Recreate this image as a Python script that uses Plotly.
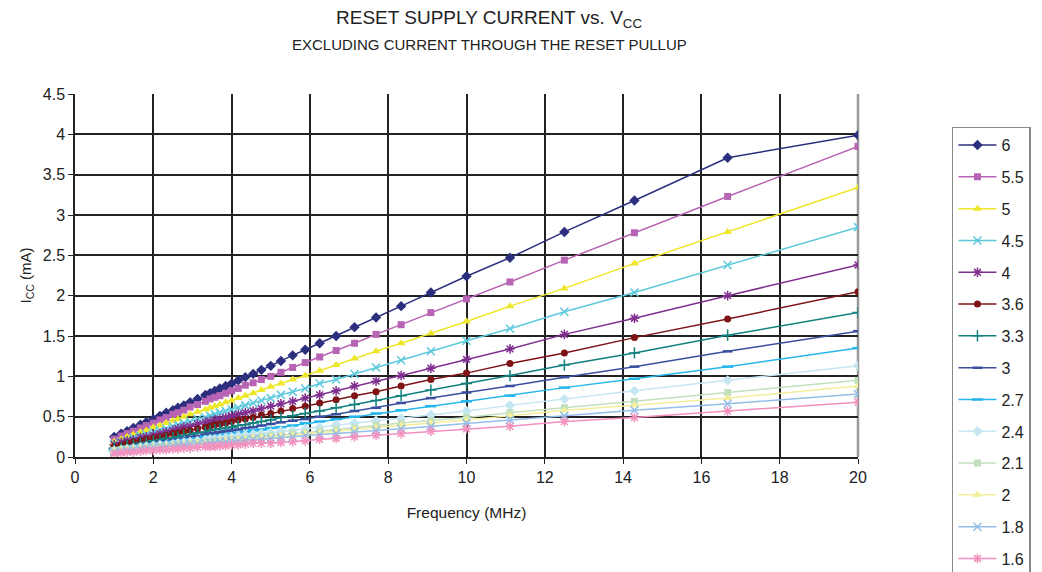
import plotly.graph_objects as go

# frequency points (MHz)
freq_mhz = [1.0, 1.18, 1.33, 1.49, 1.67, 1.82, 2.0, 2.17, 2.33, 2.5,
            2.63, 2.78, 2.94, 3.13, 3.33, 3.45, 3.57, 3.7, 3.85, 4.0,
            4.17, 4.35, 4.55, 4.76, 5.0, 5.26, 5.56, 5.88, 6.25, 6.67,
            7.14, 7.69, 8.33, 9.09, 10.0, 11.11, 12.5, 14.29, 16.67, 20.0]

# reset supply current (mA) per Vcc
icc_6v0 = [0.25, 0.29, 0.32, 0.36, 0.40, 0.43, 0.47, 0.51, 0.55, 0.58,
           0.61, 0.64, 0.68, 0.72, 0.77, 0.79, 0.82, 0.85, 0.88, 0.91,
           0.95, 0.99, 1.03, 1.08, 1.13, 1.19, 1.26, 1.33, 1.41, 1.50,
           1.61, 1.73, 1.87, 2.04, 2.24, 2.47, 2.79, 3.18, 3.71, 3.99]
icc_5v5 = [0.22, 0.26, 0.29, 0.32, 0.36, 0.39, 0.42, 0.46, 0.49, 0.53,
           0.55, 0.58, 0.62, 0.65, 0.69, 0.72, 0.74, 0.76, 0.79, 0.82,
           0.85, 0.89, 0.92, 0.96, 1.00, 1.05, 1.11, 1.17, 1.24, 1.32,
           1.41, 1.52, 1.64, 1.79, 1.96, 2.17, 2.44, 2.78, 3.23, 3.85]
icc_5v0 = [0.19, 0.22, 0.25, 0.28, 0.31, 0.33, 0.37, 0.39, 0.42, 0.45,
           0.47, 0.50, 0.53, 0.56, 0.59, 0.61, 0.63, 0.65, 0.68, 0.70,
           0.73, 0.76, 0.79, 0.83, 0.87, 0.91, 0.96, 1.01, 1.07, 1.14,
           1.22, 1.31, 1.41, 1.53, 1.68, 1.87, 2.09, 2.40, 2.79, 3.34]
icc_4v5 = [0.16, 0.19, 0.21, 0.24, 0.26, 0.28, 0.31, 0.33, 0.35, 0.38,
           0.40, 0.42, 0.44, 0.47, 0.49, 0.51, 0.53, 0.55, 0.57, 0.59,
           0.61, 0.64, 0.67, 0.70, 0.73, 0.77, 0.81, 0.85, 0.91, 0.96,
           1.03, 1.11, 1.20, 1.31, 1.44, 1.59, 1.80, 2.04, 2.38, 2.85]
icc_4v0 = [0.15, 0.18, 0.20, 0.21, 0.24, 0.25, 0.27, 0.29, 0.31, 0.33,
           0.35, 0.37, 0.38, 0.41, 0.43, 0.44, 0.46, 0.47, 0.49, 0.51,
           0.53, 0.55, 0.57, 0.60, 0.63, 0.66, 0.69, 0.73, 0.77, 0.82,
           0.88, 0.94, 1.01, 1.10, 1.21, 1.34, 1.52, 1.72, 2.00, 2.38]
icc_3v6 = [0.13, 0.15, 0.17, 0.19, 0.20, 0.22, 0.24, 0.25, 0.27, 0.29,
           0.30, 0.32, 0.33, 0.35, 0.37, 0.38, 0.40, 0.41, 0.42, 0.44,
           0.46, 0.47, 0.49, 0.52, 0.54, 0.57, 0.60, 0.63, 0.67, 0.71,
           0.76, 0.81, 0.88, 0.96, 1.04, 1.16, 1.29, 1.48, 1.71, 2.05]
icc_3v3 = [0.11, 0.12, 0.14, 0.15, 0.17, 0.18, 0.20, 0.21, 0.23, 0.24,
           0.25, 0.27, 0.28, 0.30, 0.31, 0.33, 0.34, 0.35, 0.36, 0.37,
           0.39, 0.40, 0.42, 0.44, 0.46, 0.49, 0.51, 0.54, 0.57, 0.61,
           0.65, 0.70, 0.76, 0.83, 0.91, 1.01, 1.14, 1.29, 1.51, 1.79]
icc_3v0 = [0.09, 0.11, 0.12, 0.14, 0.15, 0.16, 0.17, 0.19, 0.20, 0.21,
           0.22, 0.23, 0.25, 0.26, 0.28, 0.29, 0.30, 0.31, 0.32, 0.33,
           0.34, 0.36, 0.37, 0.39, 0.41, 0.43, 0.45, 0.47, 0.50, 0.53,
           0.57, 0.61, 0.67, 0.73, 0.80, 0.88, 0.99, 1.12, 1.31, 1.56]
icc_2v7 = [0.08, 0.10, 0.11, 0.12, 0.14, 0.15, 0.16, 0.17, 0.18, 0.19,
           0.20, 0.21, 0.22, 0.23, 0.25, 0.25, 0.26, 0.27, 0.28, 0.29,
           0.30, 0.31, 0.33, 0.34, 0.36, 0.37, 0.39, 0.42, 0.44, 0.47,
           0.50, 0.54, 0.58, 0.63, 0.69, 0.76, 0.86, 0.97, 1.12, 1.35]
icc_2v4 = [0.08, 0.09, 0.10, 0.11, 0.12, 0.13, 0.14, 0.15, 0.15, 0.16,
           0.17, 0.18, 0.19, 0.20, 0.21, 0.22, 0.22, 0.23, 0.24, 0.25,
           0.26, 0.27, 0.28, 0.29, 0.30, 0.32, 0.33, 0.35, 0.37, 0.40,
           0.42, 0.45, 0.48, 0.52, 0.57, 0.64, 0.72, 0.82, 0.95, 1.13]
icc_2v1 = [0.08, 0.09, 0.10, 0.10, 0.11, 0.12, 0.13, 0.13, 0.14, 0.15,
           0.16, 0.16, 0.17, 0.18, 0.19, 0.19, 0.20, 0.20, 0.21, 0.22,
           0.22, 0.23, 0.24, 0.25, 0.26, 0.27, 0.29, 0.30, 0.32, 0.34,
           0.36, 0.39, 0.42, 0.45, 0.49, 0.55, 0.61, 0.69, 0.80, 0.95]
icc_2v0 = [0.07, 0.08, 0.09, 0.09, 0.10, 0.11, 0.11, 0.12, 0.13, 0.14,
           0.14, 0.15, 0.15, 0.16, 0.17, 0.18, 0.18, 0.19, 0.20, 0.20,
           0.21, 0.22, 0.23, 0.24, 0.25, 0.26, 0.27, 0.29, 0.30, 0.32,
           0.34, 0.37, 0.39, 0.42, 0.46, 0.51, 0.58, 0.64, 0.73, 0.88]
icc_1v8 = [0.06, 0.07, 0.08, 0.09, 0.10, 0.11, 0.12, 0.13, 0.13, 0.14,
           0.15, 0.15, 0.16, 0.16, 0.17, 0.18, 0.18, 0.19, 0.19, 0.20,
           0.20, 0.21, 0.22, 0.22, 0.23, 0.24, 0.25, 0.27, 0.28, 0.29,
           0.31, 0.33, 0.35, 0.38, 0.42, 0.46, 0.51, 0.58, 0.66, 0.78]
icc_1v6 = [0.04, 0.05, 0.06, 0.06, 0.07, 0.08, 0.08, 0.09, 0.09, 0.10,
           0.10, 0.11, 0.11, 0.12, 0.13, 0.13, 0.13, 0.14, 0.14, 0.15,
           0.15, 0.16, 0.17, 0.17, 0.17, 0.18, 0.19, 0.20, 0.22, 0.23,
           0.25, 0.27, 0.29, 0.32, 0.35, 0.38, 0.44, 0.49, 0.57, 0.68]

vcc_labels = ["6", "5.5", "5", "4.5", "4", "3.6", "3.3", "3", "2.7", "2.4", "2.1", "2", "1.8", "1.6"]
series = [icc_6v0, icc_5v5, icc_5v0, icc_4v5, icc_4v0, icc_3v6, icc_3v3,
          icc_3v0, icc_2v7, icc_2v4, icc_2v1, icc_2v0, icc_1v8, icc_1v6]

# excel-ish palette + marker per series
colors = ["#2B2F7E", "#B864B4", "#EEE62A", "#5CC8DC", "#7F2F8F", "#7F1416", "#12807E",
          "#3A4FA0", "#27B6EC", "#C6E6F2", "#C2E0BE", "#F3EE9A", "#92BEE8", "#F290BE"]
symbols = ["diamond", "square", "triangle-up", "x-thin-open", "asterisk-open", "circle",
           "cross-thin-open", "line-ew-open", "line-ew-open", "diamond", "square",
           "triangle-up", "x-thin-open", "asterisk-open"]
sizes = [8, 7, 8, 8, 8, 7, 8, 7, 8, 8, 7, 8, 8, 8]

FONT = "Liberation Sans, Arial, sans-serif"

fig = go.Figure()
for lab, ys, col, sym, sz in zip(vcc_labels, series, colors, symbols, sizes):
    is_open = sym.endswith("open")
    fig.add_trace(
        go.Scatter(
            x=freq_mhz,
            y=ys,
            mode="lines+markers",
            name=lab,
            legendgroup=lab,
            line={"color": col, "width": 1.5},
            marker={"symbol": sym, "size": sz, "color": col,
                    "line": {"color": col, "width": 2.5 if sym == "line-ew-open" else (1.5 if is_open else 0)}},
        )
    )

# grey right border at 20 MHz
fig.add_shape(type="line", xref="paper", yref="paper", x0=1, x1=1, y0=0, y1=1,
              line={"color": "#999999", "width": 2.5}, layer="between")

fig.add_annotation(
    x=0.529, y=1.206, xref="paper", yref="paper", showarrow=False,
    xanchor="center", yanchor="middle",
    text="RESET SUPPLY CURRENT vs. V<sub>CC</sub>",
    font={"size": 19, "color": "#222"},
)
fig.add_annotation(
    x=0.529, y=1.135, xref="paper", yref="paper", showarrow=False,
    xanchor="center", yanchor="middle",
    text="EXCLUDING CURRENT THROUGH THE RESET PULLUP",
    font={"size": 15, "color": "#222"},
)

# page body has an 8px margin, so margins are shifted by 8px
fig.update_layout(
    width=1042,
    height=572,
    margin={"l": 67, "r": 192, "t": 86, "b": 123, "autoexpand": False},
    paper_bgcolor="white",
    plot_bgcolor="white",
    font={"family": FONT, "size": 16, "color": "#222"},
    xaxis={
        "title": {"text": "Frequency (MHz)", "standoff": 22, "font": {"size": 15.5}},
        "range": [0, 20], "dtick": 2,
        "showgrid": True, "gridcolor": "#222", "gridwidth": 1.5,
        "showline": True, "linecolor": "#222", "linewidth": 1.5,
        "ticks": "outside", "ticklen": 5, "tickcolor": "#222",
        "zeroline": False,
    },
    yaxis={
        "title": {"text": "I<sub>CC</sub> (mA)", "standoff": 8, "font": {"size": 15}},
        "range": [0, 4.5], "dtick": 0.5,
        "showgrid": True, "gridcolor": "#222", "gridwidth": 1.5,
        "showline": True, "linecolor": "#222", "linewidth": 1.5,
        "ticks": "outside", "ticklen": 5, "tickcolor": "#222",
        "zeroline": False,
    },
    legend={
        "x": 1.12, "xanchor": "left", "y": 0.91, "yanchor": "top",
        "bordercolor": "#888", "borderwidth": 1.5, "bgcolor": "white",
        "font": {"size": 16, "color": "#222"},
        "tracegroupgap": 8, "maxheight": 1000, "itemwidth": 38,
    },
)

fig.write_html("out.html")
